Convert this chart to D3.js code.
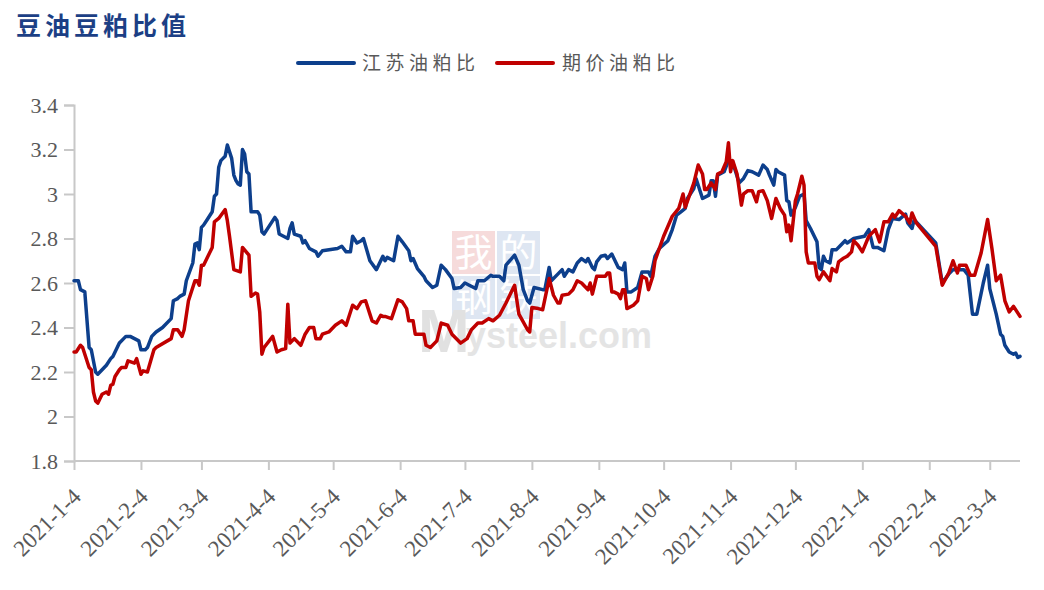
<!DOCTYPE html>
<html><head><meta charset="utf-8">
<script src="https://cdn.jsdelivr.net/npm/d3@7"></script>
<style>body{margin:0;background:#fff}svg{display:block}</style>
</head><body>
<svg id="chart" width="1044" height="590"></svg>
<script>
const title = "豆油豆粕比值";
const seriesNames = ["江苏油粕比", "期价油粕比"];
const seriesColors = ["#0d3f8c", "#c00000"];
const yTicks = [1.8, 2, 2.2, 2.4, 2.6, 2.8, 3, 3.2, 3.4];
const xTickDates = ["2021-01-04","2021-02-04","2021-03-04","2021-04-04","2021-05-04","2021-06-04","2021-07-04","2021-08-04","2021-09-04","2021-10-04","2021-11-04","2021-12-04","2022-01-04","2022-02-04","2022-03-04"];

const blueDates = ["2021-01-04","2021-01-06","2021-01-07","2021-01-09","2021-01-11","2021-01-12","2021-01-14","2021-01-15","2021-01-17","2021-01-19","2021-01-21","2021-01-22","2021-01-25","2021-01-27","2021-01-28","2021-01-30","2021-02-01","2021-02-03","2021-02-04","2021-02-06","2021-02-07","2021-02-09","2021-02-11","2021-02-14","2021-02-18","2021-02-19","2021-02-21","2021-02-22","2021-02-24","2021-02-25","2021-02-28","2021-03-01","2021-03-02","2021-03-03","2021-03-04","2021-03-05","2021-03-07","2021-03-09","2021-03-10","2021-03-11","2021-03-12","2021-03-13","2021-03-14","2021-03-15","2021-03-16","2021-03-18","2021-03-19","2021-03-20","2021-03-21","2021-03-22","2021-03-23","2021-03-24","2021-03-25","2021-03-26","2021-03-27","2021-03-30","2021-03-31","2021-04-01","2021-04-02","2021-04-04","2021-04-07","2021-04-08","2021-04-09","2021-04-11","2021-04-13","2021-04-14","2021-04-15","2021-04-16","2021-04-19","2021-04-20","2021-04-21","2021-04-23","2021-04-26","2021-04-27","2021-04-29","2021-05-06","2021-05-08","2021-05-10","2021-05-12","2021-05-13","2021-05-15","2021-05-17","2021-05-18","2021-05-21","2021-05-24","2021-05-27","2021-05-28","2021-05-29","2021-06-01","2021-06-03","2021-06-05","2021-06-08","2021-06-09","2021-06-10","2021-06-12","2021-06-15","2021-06-16","2021-06-19","2021-06-21","2021-06-23","2021-06-25","2021-06-28","2021-06-29","2021-07-02","2021-07-04","2021-07-06","2021-07-09","2021-07-10","2021-07-13","2021-07-16","2021-07-17","2021-07-20","2021-07-22","2021-07-23","2021-07-27","2021-07-29","2021-07-31","2021-08-02","2021-08-03","2021-08-05","2021-08-09","2021-08-10","2021-08-12","2021-08-13","2021-08-16","2021-08-18","2021-08-19","2021-08-21","2021-08-23","2021-08-25","2021-08-27","2021-08-29","2021-08-30","2021-09-01","2021-09-02","2021-09-03","2021-09-05","2021-09-07","2021-09-08","2021-09-10","2021-09-11","2021-09-13","2021-09-15","2021-09-16","2021-09-17","2021-09-19","2021-09-22","2021-09-24","2021-09-27","2021-09-28","2021-09-30","2021-10-02","2021-10-06","2021-10-08","2021-10-10","2021-10-12","2021-10-14","2021-10-15","2021-10-18","2021-10-19","2021-10-22","2021-10-25","2021-10-26","2021-10-27","2021-10-28","2021-10-29","2021-11-01","2021-11-03","2021-11-05","2021-11-06","2021-11-08","2021-11-10","2021-11-12","2021-11-14","2021-11-17","2021-11-19","2021-11-21","2021-11-22","2021-11-24","2021-11-25","2021-11-26","2021-11-29","2021-11-30","2021-12-01","2021-12-02","2021-12-04","2021-12-06","2021-12-08","2021-12-09","2021-12-11","2021-12-14","2021-12-15","2021-12-16","2021-12-17","2021-12-18","2021-12-20","2021-12-21","2021-12-23","2021-12-25","2021-12-27","2021-12-28","2021-12-31","2022-01-05","2022-01-07","2022-01-09","2022-01-11","2022-01-14","2022-01-16","2022-01-18","2022-01-21","2022-01-24","2022-01-25","2022-01-27","2022-01-28","2022-02-07","2022-02-10","2022-02-13","2022-02-15","2022-02-18","2022-02-20","2022-02-22","2022-02-24","2022-02-26","2022-03-01","2022-03-03","2022-03-04","2022-03-07","2022-03-09","2022-03-10","2022-03-11","2022-03-13","2022-03-15","2022-03-16","2022-03-17","2022-03-18"];
const blueValues = [2.61,2.61,2.57,2.56,2.31,2.30,2.20,2.19,2.21,2.23,2.26,2.27,2.33,2.35,2.36,2.36,2.35,2.34,2.30,2.30,2.31,2.36,2.38,2.40,2.44,2.52,2.53,2.54,2.55,2.61,2.69,2.775,2.78,2.75,2.85,2.86,2.89,2.92,2.99,3.00,3.12,3.15,3.16,3.17,3.22,3.16,3.085,3.06,3.045,3.04,3.20,3.18,3.10,3.09,2.92,2.92,2.905,2.83,2.82,2.85,2.895,2.88,2.82,2.81,2.80,2.845,2.87,2.82,2.81,2.78,2.79,2.755,2.74,2.72,2.745,2.755,2.765,2.74,2.74,2.81,2.78,2.79,2.80,2.70,2.66,2.72,2.70,2.715,2.70,2.81,2.785,2.745,2.70,2.71,2.665,2.63,2.61,2.58,2.59,2.68,2.66,2.62,2.575,2.58,2.60,2.59,2.575,2.61,2.61,2.635,2.63,2.63,2.61,2.68,2.725,2.68,2.57,2.52,2.51,2.58,2.57,2.57,2.67,2.61,2.64,2.66,2.63,2.66,2.65,2.69,2.71,2.695,2.71,2.67,2.66,2.695,2.72,2.725,2.71,2.73,2.71,2.67,2.66,2.69,2.56,2.56,2.58,2.65,2.65,2.63,2.72,2.755,2.79,2.84,2.905,2.92,2.935,2.98,3.025,3.07,2.98,2.995,3.06,3.06,2.99,3.085,3.10,3.15,3.14,3.11,3.05,3.07,3.105,3.10,3.085,3.13,3.11,3.085,3.04,3.11,3.10,3.085,2.97,2.965,2.905,2.94,2.99,3.00,2.88,2.845,2.785,2.67,2.66,2.72,2.70,2.69,2.75,2.75,2.77,2.79,2.78,2.80,2.81,2.84,2.76,2.76,2.745,2.84,2.89,2.885,2.91,2.87,2.845,2.885,2.78,2.60,2.64,2.66,2.66,2.66,2.635,2.46,2.46,2.60,2.68,2.575,2.46,2.37,2.36,2.32,2.29,2.28,2.285,2.265,2.27];

const redDates = ["2021-01-04","2021-01-05","2021-01-07","2021-01-08","2021-01-11","2021-01-12","2021-01-13","2021-01-14","2021-01-15","2021-01-17","2021-01-19","2021-01-20","2021-01-21","2021-01-22","2021-01-23","2021-01-25","2021-01-26","2021-01-28","2021-01-29","2021-02-01","2021-02-02","2021-02-04","2021-02-05","2021-02-07","2021-02-10","2021-02-11","2021-02-18","2021-02-19","2021-02-21","2021-02-23","2021-02-24","2021-02-26","2021-03-01","2021-03-02","2021-03-03","2021-03-04","2021-03-05","2021-03-09","2021-03-10","2021-03-12","2021-03-15","2021-03-16","2021-03-17","2021-03-19","2021-03-22","2021-03-23","2021-03-26","2021-03-27","2021-03-29","2021-03-30","2021-03-31","2021-04-01","2021-04-02","2021-04-06","2021-04-08","2021-04-10","2021-04-12","2021-04-13","2021-04-14","2021-04-16","2021-04-19","2021-04-21","2021-04-23","2021-04-25","2021-04-26","2021-04-28","2021-04-29","2021-05-02","2021-05-05","2021-05-08","2021-05-10","2021-05-13","2021-05-15","2021-05-17","2021-05-19","2021-05-21","2021-05-22","2021-05-24","2021-05-26","2021-05-27","2021-05-28","2021-05-31","2021-06-03","2021-06-05","2021-06-07","2021-06-08","2021-06-10","2021-06-11","2021-06-15","2021-06-16","2021-06-18","2021-06-21","2021-06-23","2021-06-26","2021-06-28","2021-07-02","2021-07-05","2021-07-07","2021-07-10","2021-07-12","2021-07-15","2021-07-17","2021-07-20","2021-07-23","2021-07-27","2021-07-29","2021-08-02","2021-08-03","2021-08-04","2021-08-07","2021-08-09","2021-08-12","2021-08-14","2021-08-16","2021-08-17","2021-08-18","2021-08-21","2021-08-23","2021-08-25","2021-08-27","2021-08-30","2021-08-31","2021-09-01","2021-09-03","2021-09-05","2021-09-07","2021-09-08","2021-09-09","2021-09-10","2021-09-11","2021-09-13","2021-09-14","2021-09-15","2021-09-16","2021-09-17","2021-09-20","2021-09-22","2021-09-24","2021-09-26","2021-09-27","2021-09-29","2021-09-30","2021-10-04","2021-10-08","2021-10-11","2021-10-13","2021-10-14","2021-10-16","2021-10-18","2021-10-20","2021-10-22","2021-10-23","2021-10-24","2021-10-26","2021-10-28","2021-10-29","2021-10-31","2021-11-02","2021-11-03","2021-11-04","2021-11-05","2021-11-07","2021-11-08","2021-11-09","2021-11-10","2021-11-12","2021-11-14","2021-11-16","2021-11-17","2021-11-19","2021-11-21","2021-11-23","2021-11-25","2021-11-27","2021-11-29","2021-11-30","2021-12-01","2021-12-02","2021-12-04","2021-12-05","2021-12-07","2021-12-08","2021-12-09","2021-12-10","2021-12-13","2021-12-14","2021-12-15","2021-12-17","2021-12-20","2021-12-21","2021-12-23","2021-12-24","2021-12-26","2021-12-28","2021-12-30","2021-12-31","2022-01-02","2022-01-04","2022-01-07","2022-01-10","2022-01-12","2022-01-14","2022-01-16","2022-01-18","2022-01-19","2022-01-21","2022-01-24","2022-01-26","2022-01-27","2022-01-29","2022-02-07","2022-02-10","2022-02-13","2022-02-15","2022-02-17","2022-02-18","2022-02-21","2022-02-23","2022-02-25","2022-02-28","2022-03-03","2022-03-05","2022-03-07","2022-03-09","2022-03-11","2022-03-13","2022-03-15","2022-03-18"];
const redValues = [2.29,2.29,2.32,2.31,2.22,2.21,2.11,2.07,2.06,2.10,2.11,2.10,2.14,2.145,2.18,2.21,2.22,2.22,2.25,2.24,2.26,2.19,2.205,2.20,2.30,2.31,2.35,2.39,2.39,2.36,2.39,2.52,2.61,2.61,2.59,2.68,2.68,2.76,2.875,2.89,2.93,2.88,2.81,2.66,2.65,2.76,2.725,2.54,2.555,2.55,2.47,2.28,2.31,2.36,2.29,2.30,2.305,2.505,2.33,2.35,2.32,2.37,2.40,2.40,2.35,2.35,2.37,2.38,2.41,2.43,2.41,2.50,2.485,2.515,2.52,2.46,2.43,2.42,2.455,2.45,2.45,2.44,2.525,2.515,2.485,2.43,2.43,2.37,2.37,2.32,2.31,2.34,2.42,2.41,2.37,2.33,2.35,2.39,2.42,2.42,2.44,2.43,2.455,2.51,2.59,2.46,2.39,2.38,2.49,2.485,2.48,2.62,2.545,2.51,2.51,2.545,2.55,2.57,2.61,2.60,2.57,2.60,2.55,2.63,2.63,2.63,2.645,2.645,2.56,2.56,2.55,2.53,2.57,2.57,2.485,2.50,2.52,2.63,2.62,2.57,2.63,2.70,2.81,2.90,2.935,3.00,2.94,2.995,3.05,3.13,3.09,3.02,3.02,3.05,3.02,3.09,3.10,3.145,3.23,3.10,3.15,3.09,3.02,2.95,3.00,3.015,3.015,2.965,3.01,3.015,2.97,2.89,2.98,2.935,2.905,2.83,2.86,2.79,2.97,3.00,3.08,3.04,2.74,2.69,2.69,2.63,2.615,2.65,2.61,2.665,2.65,2.695,2.71,2.72,2.74,2.79,2.77,2.74,2.81,2.84,2.785,2.875,2.875,2.91,2.895,2.925,2.90,2.87,2.915,2.87,2.765,2.59,2.645,2.70,2.645,2.68,2.68,2.635,2.635,2.735,2.885,2.755,2.61,2.635,2.52,2.47,2.495,2.45];

const parse = d3.timeParse("%Y-%m-%d");
const fmt = d3.timeFormat("%Y-%-m-%-d");
const series = [
  {name: seriesNames[0], color: seriesColors[0], pts: blueDates.map((d,i)=>({t: parse(d), v: blueValues[i]}))},
  {name: seriesNames[1], color: seriesColors[1], pts: redDates.map((d,i)=>({t: parse(d), v: redValues[i]}))}
];

const svg = d3.select("#chart");
const margin = {left: 74, right: 24, top: 105, bottom: 129};
const W = 1044, H = 590;
const x = d3.scaleTime().domain([parse("2021-01-04"), parse("2022-03-18")]).range([margin.left, W - margin.right]);
const y = d3.scaleLinear().domain([1.8, 3.4]).range([H - margin.bottom, margin.top]);

// watermark
const wm = svg.append("g").attr("opacity", 0.75);
const box = 43;
const wmChars = [["我","#f4cfcf"],["的","#d3deee"],["钢","#d3deee"],["铁","#d3deee"]];
wmChars.forEach((c,i)=>{
  const bx = 452 + (i%2)*(box+2), by = 231 + Math.floor(i/2)*(box+2);
  wm.append("rect").attr("x",bx).attr("y",by).attr("width",box).attr("height",box).attr("fill",c[1]);
  wm.append("text").attr("x",bx+box/2).attr("y",by+box/2+13).attr("text-anchor","middle")
    .attr("font-family","Noto Sans CJK SC").attr("font-size",38).attr("fill","#ffffff").text(c[0]);
});
wm.append("text").attr("x",418).attr("y",352).attr("font-family","Liberation Sans, Arial").attr("font-weight","bold")
  .attr("font-size",62).attr("fill","#d8d8d8").text("M");
wm.append("text").attr("x",466).attr("y",348).attr("font-family","Liberation Sans, Arial").attr("font-weight","bold")
  .attr("font-size",36).attr("fill","#dcdcdc").text("ysteel.com");

// title
svg.append("text").attr("x",16).attr("y",35).attr("font-family","Noto Sans CJK SC").attr("font-weight","bold")
  .attr("font-size",25).attr("letter-spacing",4).attr("fill","#1c3f85").text(title);

// axes
const axisColor = "#c8c8c8";
const yAxis = svg.append("g").attr("transform",`translate(${margin.left},0)`)
  .call(d3.axisLeft(y).tickValues(yTicks).tickSize(10).tickPadding(6).tickFormat(d=>String(d)));
const xAxis = svg.append("g").attr("transform",`translate(0,${H - margin.bottom})`)
  .call(d3.axisBottom(x).tickValues(xTickDates.map(parse)).tickSize(9).tickFormat(fmt));
[yAxis, xAxis].forEach(a=>{
  a.select(".domain").attr("stroke",axisColor).attr("stroke-width",2);
  a.selectAll(".tick line").attr("stroke",axisColor).attr("stroke-width",2);
  a.selectAll("text").attr("fill","#595959").attr("font-family","Liberation Serif, Times New Roman, serif").attr("font-size",22);
});
xAxis.select(".domain").attr("d",`M${margin.left},0H${W - margin.right}`);
xAxis.selectAll(".tick text").attr("text-anchor","end").attr("y",0).attr("dy",0).attr("font-size",23)
  .attr("transform","translate(8,37) rotate(-45)");

// lines
const line = d3.line().x(d=>x(d.t)).y(d=>y(d.v));
series.forEach(s=>{
  svg.append("path").datum(s.pts).attr("d",line).attr("fill","none").attr("stroke",s.color)
    .attr("stroke-width",3.5).attr("stroke-linejoin","round").attr("stroke-linecap","round");
});

// legend
const leg = [{x0:298, tx:362}, {x0:497, tx:562}];
series.forEach((s,i)=>{
  svg.append("line").attr("x1",leg[i].x0).attr("x2",leg[i].x0+56).attr("y1",63).attr("y2",63)
    .attr("stroke",s.color).attr("stroke-width",4).attr("stroke-linecap","round");
  svg.append("text").attr("x",leg[i].tx).attr("y",70).attr("font-family","Noto Sans CJK SC").attr("font-size",19)
    .attr("letter-spacing",4.5).attr("fill","#595959").text(s.name);
});
</script>
</body></html>
